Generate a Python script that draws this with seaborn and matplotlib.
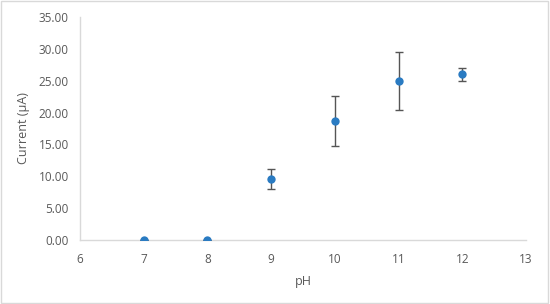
import matplotlib
matplotlib.use("Agg")
import matplotlib.pyplot as plt
import seaborn as sns
import pandas as pd
from matplotlib.patches import Rectangle

# data
ph = [7, 8, 9, 10, 11, 12]
current = [0.0, 0.0, 9.6, 18.7, 24.9, 26.0]
err_low = [0.0, 0.0, 1.6, 3.9, 4.5, 1.0]
err_high = [0.0, 0.0, 1.6, 3.9, 4.6, 1.0]

df = pd.DataFrame({"pH": ph, "Current": current})

sns.set_style("white")
plt.rcParams['font.family'] = ['Open Sans', 'DejaVu Sans']

text_color = "#595959"
axis_color = "#D9D9D9"

fig = plt.figure(figsize=(5.5, 3.04), dpi=100)
ax = fig.add_axes([0.1455, 0.2105, 0.8109, 0.7335])

ax.errorbar(ph, current, yerr=[err_low, err_high], fmt="none",
            ecolor="#555555", elinewidth=1.0, capsize=3, capthick=1.0, zorder=2)
sns.scatterplot(data=df, x="pH", y="Current", ax=ax, color="#2A7BC2",
                s=36, edgecolor="#2A7BC2", linewidth=0, zorder=3)

ax.set_xlim(6, 13)
ax.set_ylim(0, 35)
ax.set_xticks(range(6, 14))
ax.set_yticks(range(0, 36, 5))
ax.set_yticklabels(["%.2f" % v for v in range(0, 36, 5)])

ax.set_xlabel("pH", color=text_color, fontsize=9, labelpad=7)
ax.set_ylabel("Current (µA)", color=text_color, fontsize=9, labelpad=6)
ax.tick_params(axis="both", colors=text_color, labelsize=8.5, length=0)
ax.tick_params(axis="x", pad=9)
ax.tick_params(axis="y", pad=8)

for side in ["top", "right"]:
    ax.spines[side].set_visible(False)
for side in ["bottom", "left"]:
    ax.spines[side].set_color(axis_color)
    ax.spines[side].set_linewidth(1.0)
ax.spines["bottom"].set_zorder(1)

# light border around the chart area
fig.patches.append(Rectangle((0.002, 0.003), 0.995, 0.993, transform=fig.transFigure,
                             fill=False, edgecolor=axis_color, linewidth=1.0))

fig.savefig("out.png", dpi=100)
